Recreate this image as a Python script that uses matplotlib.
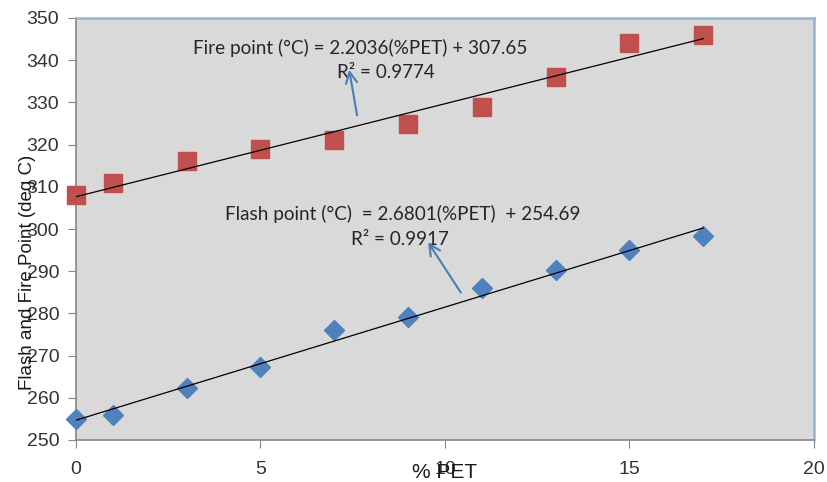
import numpy as np
import matplotlib.pyplot as plt

# dados
pet = [0, 1, 3, 5, 7, 9, 11, 13, 15, 17]
fire_point = [308, 311, 316, 319, 321, 325, 329, 336, 344, 346]
flash_point = [255, 256, 262.3, 267.3, 276, 279.1, 286, 290.3, 295, 298.3]

# coeficientes das linhas de tendência (do próprio gráfico)
fire_slope, fire_icpt = 2.2036, 307.65
flash_slope, flash_icpt = 2.6801, 254.69

fire_eq = "Fire point (°C) = 2.2036(%PET) + 307.65"
fire_r2 = "R² = 0.9774"
flash_eq = "Flash point (°C)  = 2.6801(%PET)  + 254.69"
flash_r2 = "R² = 0.9917"

xticks = [0, 5, 10, 15, 20]
yticks = [250, 260, 270, 280, 290, 300, 310, 320, 330, 340, 350]

fig = plt.figure(figsize=(8.28, 4.82), dpi=100)
ax = fig.add_axes([76 / 828, 1 - 440 / 482, (814 - 76) / 828, (440 - 18) / 482])
ax.set_facecolor('#d9d9d9')

ax.plot(pet, fire_point, 's', color='#c0504d', markersize=13.5, zorder=3, clip_on=False)
ax.plot(pet, flash_point, 'D', color='#4f81bd', markersize=9.7, zorder=3, clip_on=False)

xl = np.array([pet[0], pet[-1]])
ax.plot(xl, fire_slope * xl + fire_icpt, color='black', lw=0.9, zorder=4)
ax.plot(xl, flash_slope * xl + flash_icpt, color='black', lw=0.9, zorder=4)

ax.set_xlim(0, 20)
ax.set_ylim(250, 350)
ax.set_xticks(xticks)
ax.set_yticks(yticks)
ax.tick_params(direction='out', length=6, color='#868686', labelcolor='#333333',
               labelsize=14, pad=6)
ax.tick_params(axis='x', pad=9)
for lab in ax.get_xticklabels() + ax.get_yticklabels():
    lab.set_family('Liberation Sans')

for s in ['left', 'bottom']:
    ax.spines[s].set_color('#868686')
    ax.spines[s].set_linewidth(1.2)
for s in ['top', 'right']:
    ax.spines[s].set_color('#95b3d7')
    ax.spines[s].set_linewidth(1.8)

txt = dict(family='Lato', fontsize=13.6, color='#262626', ha='center', va='center', zorder=5)
ax.text(7.71, 342.9, fire_eq, **txt)
ax.text(8.39, 337.2, fire_r2, **txt)
ax.text(8.85, 303.6, flash_eq, **txt)
ax.text(8.77, 297.4, flash_r2, **txt)

arrow = dict(arrowstyle='->,head_length=0.8,head_width=0.4', color='#4a7ebb', lw=1.5)
ax.annotate('', xy=(7.39, 338.4), xytext=(7.63, 326.3), arrowprops=arrow, zorder=6)
ax.annotate('', xy=(9.50, 297.4), xytext=(10.47, 284.4), arrowprops=arrow, zorder=6)

# rótulos dos eixos sobrepostos aos ticks, como no original
fig.text(28 / 828, 1 - 272 / 482, 'Flash and Fire Point (deg C)', rotation=90,
         family='Liberation Sans', fontsize=13.5, color='#1a1a1a',
         ha='center', va='center', zorder=10)
fig.text(445 / 828, 1 - 472 / 482, '% PET', family='Liberation Sans', fontsize=15,
         color='#1a1a1a', ha='center', va='center', zorder=10)

fig.savefig('out.png', dpi=100)
